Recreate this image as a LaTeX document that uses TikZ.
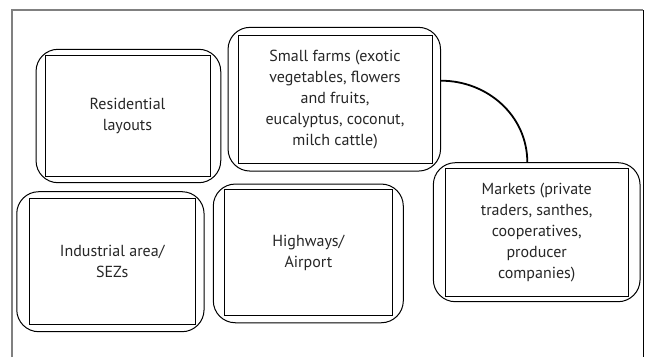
\documentclass[tikz,border=0pt]{standalone}
\usepackage{fontspec}
\setmainfont{PT Sans}

\begin{document}
\begin{tikzpicture}[x=1pt,y=-1pt,
    outerbox/.style={draw,line width=1pt,rounded corners=22pt,inner sep=0pt},
    innerbox/.style={draw,line width=1pt,inner sep=0pt,align=center,
      text=black!85,font=\fontsize{16}{21}\selectfont}]
        \useasboundingbox (0,0) rectangle (648,357);
        % page frame
        \draw[gray,line width=1.2pt] (12,357) -- (12,10) -- (643,10);
        \draw[line width=1pt] (643,10) -- (643,357);
        %
        \node[outerbox,minimum width=184.7pt,minimum height=133.4pt] (res) at (128.4,116) {};
        \node[innerbox,minimum width=165pt,minimum height=121.7pt] (resin) at (127.5,115.9) {Residential\\layouts};
        \node[outerbox,minimum width=212.5pt,minimum height=143.7pt] (farms) at (334.3,99.2) {};
        \node[innerbox,minimum width=194pt,minimum height=128.3pt] (farmsin) at (335,99.2)
            {Small farms (exotic\\vegetables, flowers\\and fruits,\\eucalyptus, coconut,\\milch cattle)};
        \node[outerbox,minimum width=206.7pt,minimum height=139pt] (mkt) at (536.7,232.2) {};
        \node[innerbox,minimum width=183.3pt,minimum height=127.7pt] (mktin) at (536.7,232.2)
            {Markets (private\\traders, santhes,\\cooperatives,\\producer\\companies)};
        \node[outerbox,minimum width=187.3pt,minimum height=140pt] (ind) at (110.4,261.7) {};
        \node[innerbox,minimum width=165.7pt,minimum height=125.7pt] (indin) at (112.2,261.2) {Industrial area/\\SEZs};
        \node[outerbox,minimum width=190pt,minimum height=138.7pt] (hwy) at (308.3,253.4) {};
        \node[innerbox,minimum width=168.7pt,minimum height=126.4pt] (hwyin) at (308.4,252.5) {Highways/\\Airport};
        %
        % link farms - markets
        \draw[line width=1.8pt] ([yshift=18.5pt]farms.east) to[out=0,in=90] ([xshift=-9.4pt]mkt.north);
\end{tikzpicture}
\end{document}
